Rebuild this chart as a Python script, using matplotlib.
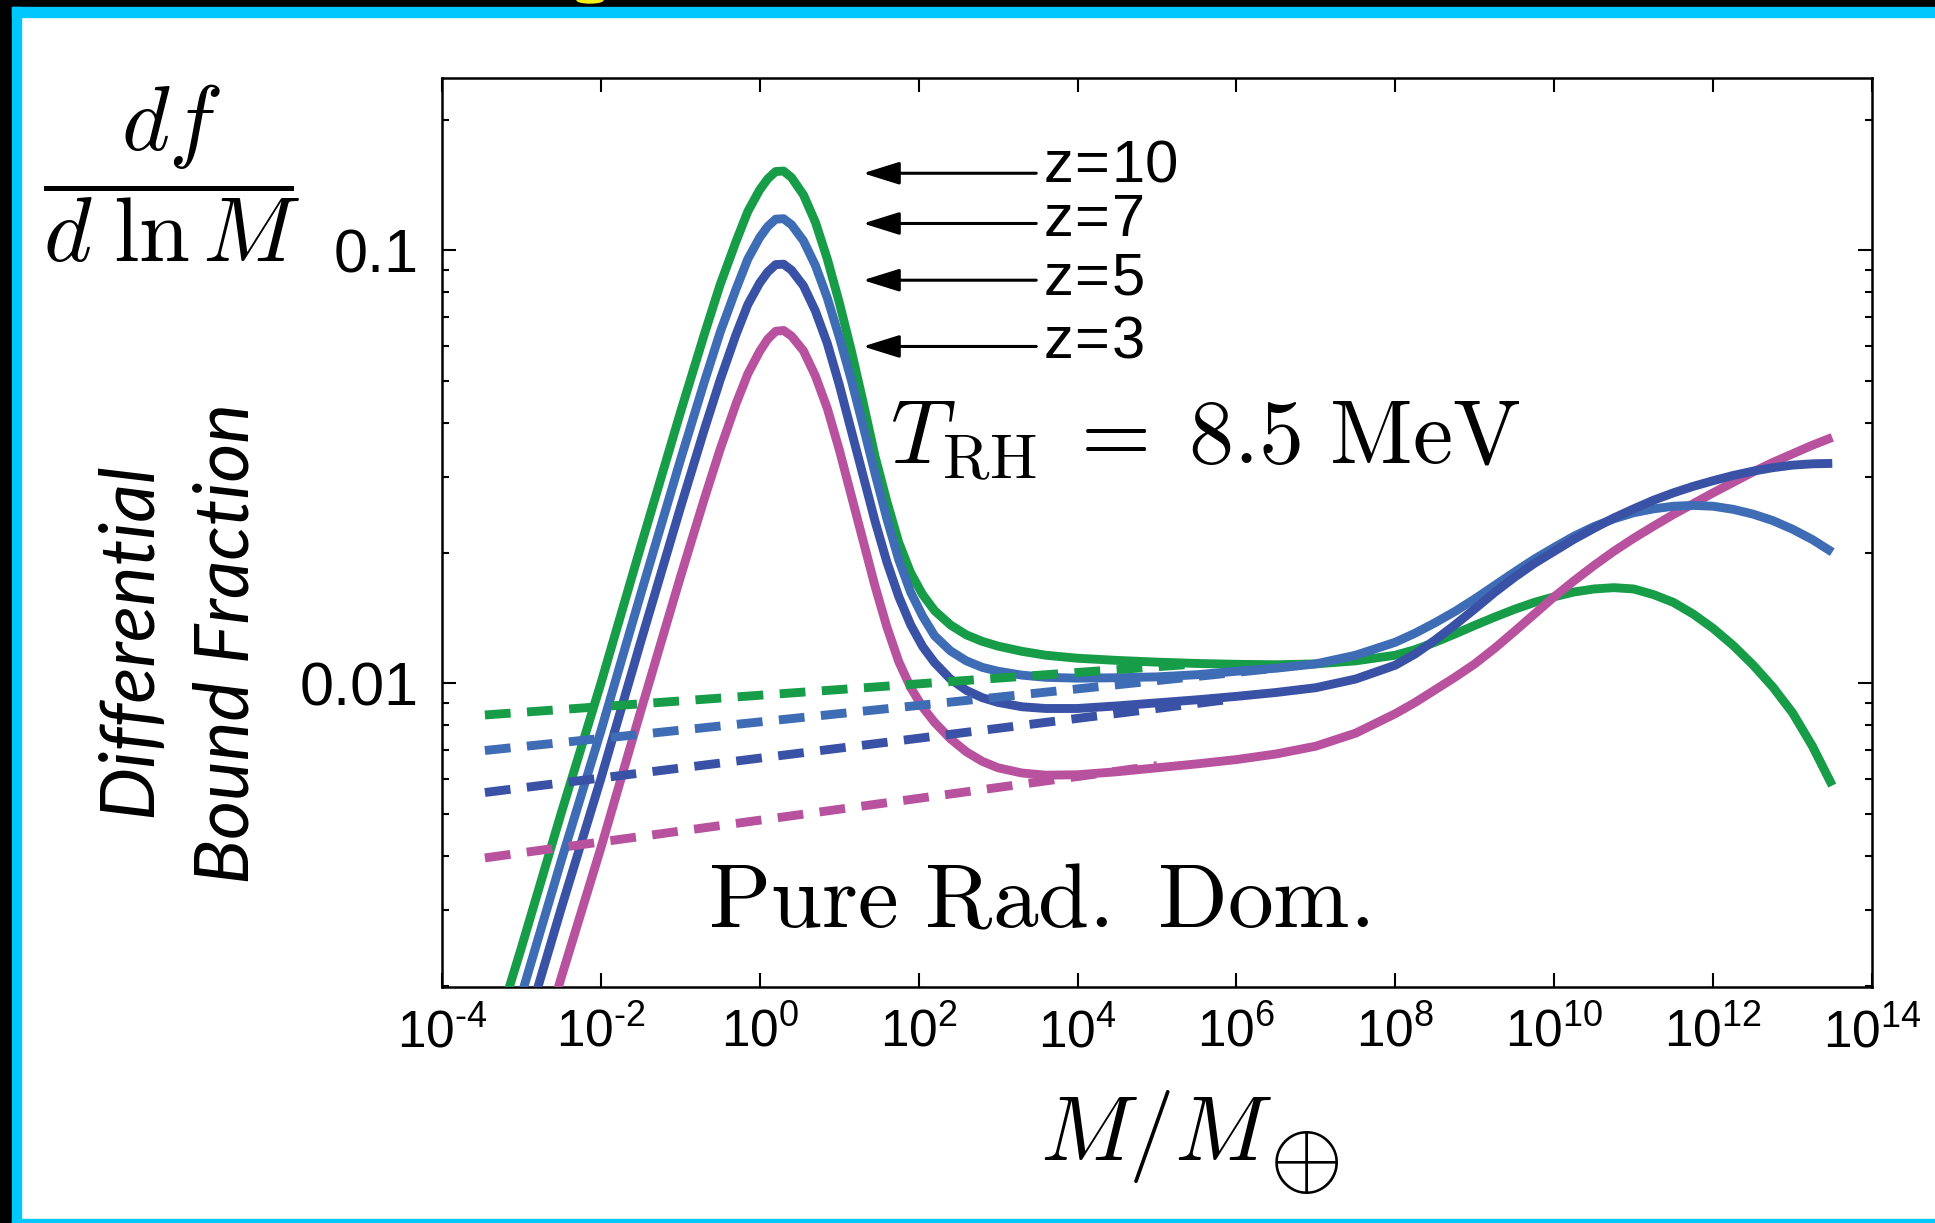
import numpy as np
import matplotlib
matplotlib.use("Agg")
import matplotlib.pyplot as plt
from matplotlib.patches import Rectangle, Ellipse
from matplotlib.ticker import FixedLocator, FuncFormatter, LogLocator, NullFormatter, NullLocator

# ---------------- data ----------------
# log10(M / M_earth) grid shared by the solid curves
log_mass = [-3.5, -3.0, -2.5, -2.0, -1.5, -1.0, -0.7, -0.5, -0.3, -0.15, 0.0, 0.1, 0.2, 0.3, 0.4,
            0.55, 0.7, 0.85, 1.0, 1.15, 1.3, 1.45, 1.6, 1.75, 1.9, 2.05, 2.2, 2.4, 2.6, 2.8, 3.0,
            3.3, 3.6, 4.0, 4.5, 5.0, 5.5, 6.0, 6.5, 7.0, 7.5,
            8.0, 8.25, 8.5, 8.75, 9.0, 9.25, 9.5, 9.75, 10.0, 10.25, 10.5, 10.75,
            11.0, 11.25, 11.5, 11.75, 12.0, 12.25, 12.5, 12.75, 13.0, 13.25, 13.5]

# log10(df/dlnM) for each redshift
logf_z10 = [-2.91, -2.61, -2.30, -2.00, -1.685, -1.375, -1.195, -1.08, -0.98, -0.91, -0.86, -0.835, -0.818, -0.817, -0.832,
            -0.872, -0.935, -1.02, -1.12, -1.23, -1.35, -1.475, -1.58, -1.675, -1.745, -1.795, -1.832, -1.865, -1.888, -1.903, -1.914,
            -1.926, -1.935, -1.942, -1.947, -1.951, -1.954, -1.956, -1.957, -1.955, -1.948,
            -1.935, -1.922, -1.905, -1.886, -1.866, -1.847, -1.829, -1.813, -1.80, -1.789, -1.782, -1.779,
            -1.782, -1.795, -1.813, -1.840, -1.873, -1.912, -1.957, -2.008, -2.068, -2.145, -2.236]
logf_z7 = [-3.02, -2.72, -2.41, -2.11, -1.795, -1.485, -1.305, -1.19, -1.09, -1.02, -0.97, -0.945, -0.928, -0.927, -0.941,
           -0.978, -1.035, -1.11, -1.20, -1.298, -1.405, -1.515, -1.62, -1.715, -1.79, -1.845, -1.89, -1.925, -1.948, -1.963, -1.972,
           -1.981, -1.986, -1.988, -1.987, -1.985, -1.98, -1.972, -1.965, -1.955, -1.935,
           -1.905, -1.884, -1.86, -1.834, -1.805, -1.774, -1.743, -1.713, -1.686, -1.66, -1.638, -1.62,
           -1.606, -1.597, -1.591, -1.589, -1.591, -1.598, -1.609, -1.624, -1.644, -1.668, -1.697]
logf_z5 = [-3.13, -2.83, -2.52, -2.22, -1.905, -1.595, -1.415, -1.30, -1.195, -1.125, -1.075, -1.05, -1.033, -1.032, -1.046,
           -1.082, -1.14, -1.215, -1.31, -1.415, -1.52, -1.625, -1.72, -1.80, -1.865, -1.915, -1.952, -1.99, -2.016, -2.033, -2.044,
           -2.054, -2.058, -2.058, -2.052, -2.045, -2.038, -2.03, -2.021, -2.01, -1.99,
           -1.958, -1.932, -1.90, -1.865, -1.828, -1.79, -1.755, -1.723, -1.695, -1.667, -1.642, -1.618,
           -1.597, -1.577, -1.56, -1.545, -1.532, -1.52, -1.51, -1.502, -1.496, -1.493, -1.492]
logf_z3 = [-3.29, -2.99, -2.68, -2.38, -2.065, -1.755, -1.575, -1.46, -1.355, -1.285, -1.233, -1.205, -1.187, -1.185, -1.198,
           -1.232, -1.29, -1.365, -1.46, -1.565, -1.67, -1.775, -1.87, -1.95, -2.01, -2.055, -2.09, -2.128, -2.158, -2.18, -2.195,
           -2.207, -2.212, -2.211, -2.204, -2.195, -2.186, -2.176, -2.163, -2.145, -2.115,
           -2.07, -2.044, -2.015, -1.986, -1.955, -1.919, -1.88, -1.84, -1.80, -1.763, -1.728, -1.695,
           -1.665, -1.637, -1.61, -1.585, -1.56, -1.536, -1.512, -1.49, -1.47, -1.45, -1.432]

# dashed (pure radiation domination) asymptotes: endpoints in log10
dash_logm_z10 = [-3.46, 5.5]
dash_logf_z10 = [-2.073, -1.955]
dash_logm_z7 = [-3.46, 6.5]
dash_logf_z7 = [-2.155, -1.965]
dash_logm_z5 = [-3.46, 6.0]
dash_logf_z5 = [-2.252, -2.035]
dash_logm_z3 = [-3.46, 5.0]
dash_logf_z3 = [-2.403, -2.19]

z_labels = ["z\\!=\\!10", "z\\!=\\!7", "z\\!=\\!5", "z\\!=\\!3"]
x_tick_exps = [-4, -2, 0, 2, 4, 6, 8, 10, 12, 14]
y_tick_vals = [0.01, 0.1]
y_tick_labels = ["0.01", "0.1"]

# ---------------- style ----------------
W, H, DPI = 1935, 1223, 100
C_Z10 = "#179C48"
C_Z7 = "#3E6CB5"
C_Z5 = "#3A52A5"
C_Z3 = "#B9529E"
CYAN = "#00C8FF"

plt.rcParams["font.family"] = ["Liberation Sans", "DejaVu Sans"]
plt.rcParams["mathtext.fontset"] = "cm"

fig = plt.figure(figsize=(W / DPI, H / DPI), dpi=DPI)
fig.patch.set_facecolor("white")


def fx(px):
    return px / W


def fy(py):
    return 1 - py / H


# frame decorations (black strip + cyan border)
fig.patches.append(Rectangle((0, fy(7)), 1, 7 / H, transform=fig.transFigure, color="black", zorder=0))
fig.patches.append(Rectangle((0, 0), 12 / W, 1, transform=fig.transFigure, color="black", zorder=0))
fig.patches.append(Rectangle((12 / W, fy(17)), 1, 10 / H, transform=fig.transFigure, color=CYAN, zorder=0))
fig.patches.append(Rectangle((12 / W, 0), 9 / W, fy(7), transform=fig.transFigure, color=CYAN, zorder=0))
fig.patches.append(Rectangle((12 / W, 0), 1, 4.5 / H, transform=fig.transFigure, color=CYAN, zorder=0))
fig.patches.append(Ellipse((fx(590), fy(0)), 26 / W, 6 / H, transform=fig.transFigure, color="#F2F21A", zorder=1))

ax = fig.add_axes([fx(442), fy(987), (1872 - 442) / W, (987 - 78) / H])
ax.set_xscale("log")
ax.set_yscale("log")
ax.set_xlim(1e-4, 1e14)
ax.set_ylim(0.00199, 0.25)

mass = 10.0 ** np.array(log_mass)
lw = 6.4
for vals, c in [(logf_z10, C_Z10), (logf_z3, C_Z3), (logf_z7, C_Z7), (logf_z5, C_Z5)]:
    ax.plot(mass, 10.0 ** np.array(vals), color=c, lw=lw, zorder=3,
            solid_capstyle="butt", solid_joinstyle="round")

dash = (0, (2.9, 1.85))
for lm, lf, c in [(dash_logm_z10, dash_logf_z10, C_Z10), (dash_logm_z7, dash_logf_z7, C_Z7),
                  (dash_logm_z5, dash_logf_z5, C_Z5), (dash_logm_z3, dash_logf_z3, C_Z3)]:
    ax.plot(10.0 ** np.array(lm), 10.0 ** np.array(lf), color=c, lw=lw, ls=dash, zorder=4)

# annotations: arrows and redshift labels (layout positions, in log10 data units)
arrow_tip_logm = 1.30
arrow_tail_logm = 3.48
arrow_logf = [-0.822, -0.938, -1.069, -1.222]
label_logm = 3.56
label_logf = [-0.806, -0.932, -1.066, -1.211]
for lab, ay, ly in zip(z_labels, arrow_logf, label_logf):
    ax.annotate("", xy=(10 ** arrow_tip_logm, 10 ** ay), xytext=(10 ** arrow_tail_logm, 10 ** ay),
                arrowprops=dict(arrowstyle="-|>,head_length=1.6,head_width=0.5", mutation_scale=14,
                                lw=2.2, color="black", shrinkA=0, shrinkB=0), zorder=5)
    ax.text(10 ** label_logm, 10 ** ly, r"$\mathregular{%s}$" % lab, fontsize=43, ha="left", va="center", zorder=5)

# ticks
ax.xaxis.set_major_locator(FixedLocator([10.0 ** e for e in x_tick_exps]))
ax.xaxis.set_minor_locator(NullLocator())


def xfmt(v, p):
    e = int(round(np.log10(v)))
    s = ("\u2010%d" % abs(e)) if e < 0 else "%d" % e
    return r"$\mathregular{10^{%s}}$" % s


ax.xaxis.set_major_formatter(FuncFormatter(xfmt))
ax.yaxis.set_major_locator(FixedLocator(y_tick_vals))
ax.yaxis.set_major_formatter(FuncFormatter(lambda v, p: y_tick_labels[y_tick_vals.index(min(y_tick_vals, key=lambda t: abs(t - v)))]))
ax.yaxis.set_minor_locator(LogLocator(base=10, subs=[2, 3, 4, 5, 6, 7, 8, 9]))
ax.yaxis.set_minor_formatter(NullFormatter())
ax.tick_params(which="both", direction="in", top=True, right=True, width=1.5, color="black")
ax.tick_params(which="major", length=10)
ax.tick_params(which="minor", length=5)
ax.tick_params(axis="x", labelsize=37, pad=15)
ax.tick_params(axis="y", labelsize=44, pad=17)
for s in ax.spines.values():
    s.set_linewidth(1.8)

# texts
fig.text(fx(172), fy(174), r"$\dfrac{df}{d\;\ln M}$", fontsize=66, ha="center", va="center")
fig.text(fx(130), fy(640), "Differential", rotation=90, fontsize=54, fontstyle="italic",
         family=["Lato", "DejaVu Sans"], ha="center", va="center")
fig.text(fx(227), fy(643), "Bound Fraction", rotation=90, fontsize=54, fontstyle="italic",
         family=["Lato", "DejaVu Sans"], ha="center", va="center")
fig.text(fx(890), fy(463), r"$T_{\mathrm{RH}}\;=\;8.5\ \mathrm{MeV}$", fontsize=65, ha="left", va="baseline")
fig.text(fx(708), fy(927), r"$\mathrm{Pure\ Rad.\ Dom.}$", fontsize=66, ha="left", va="baseline")
fig.text(fx(1040), fy(1160), r"$M/M$", fontsize=66, ha="left", va="baseline")
fig.text(fx(1304), fy(1161), r"$\oplus$", fontsize=68, ha="center", va="center")

fig.savefig("out.png", dpi=DPI)
